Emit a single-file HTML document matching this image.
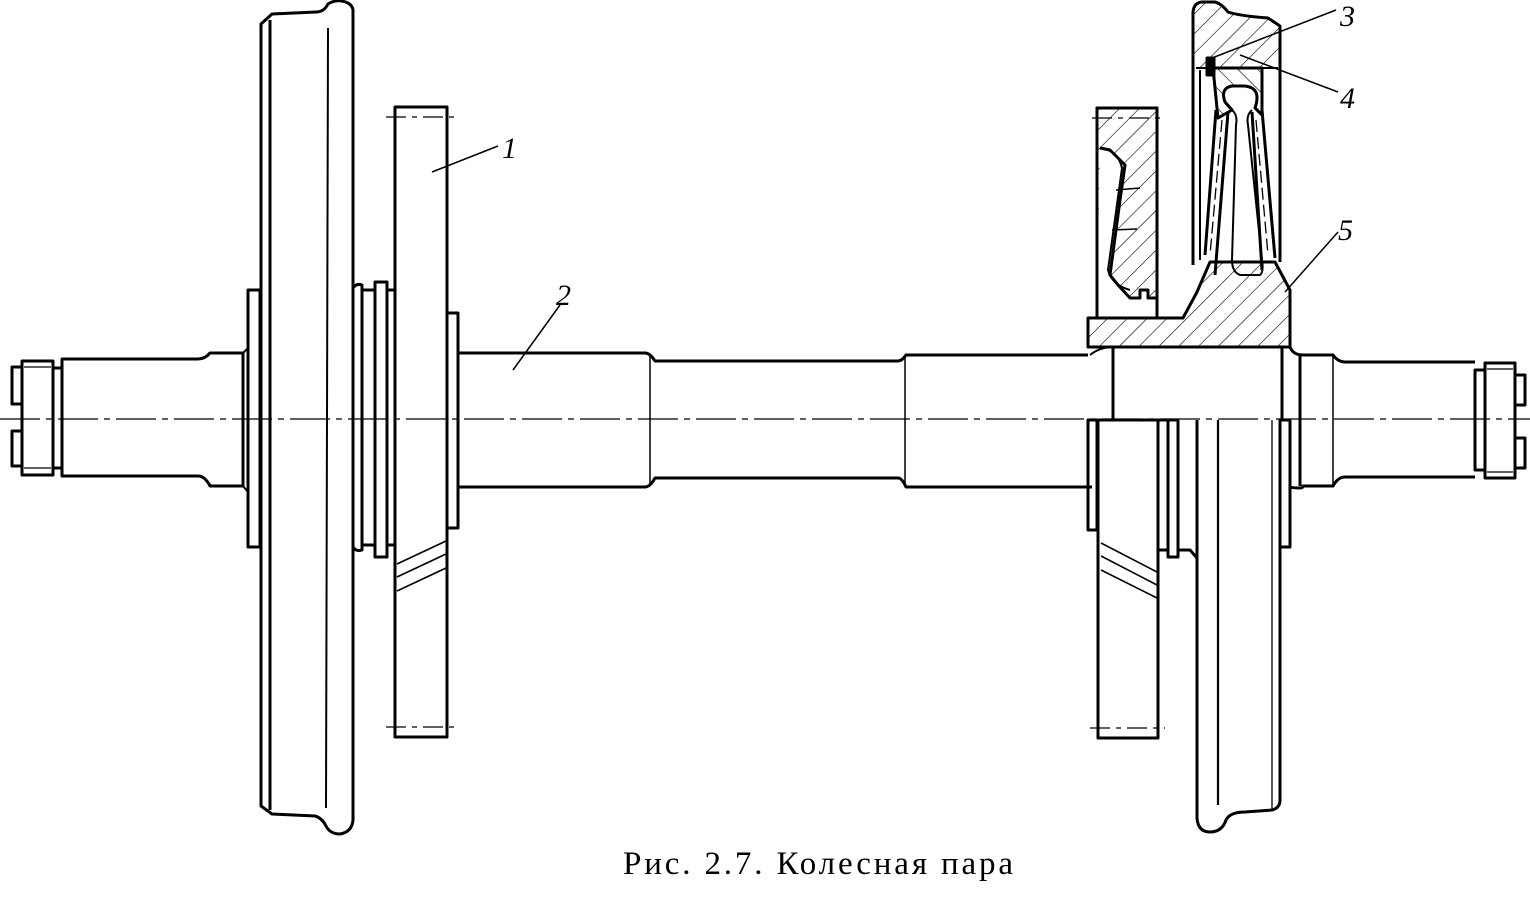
<!DOCTYPE html>
<html><head><meta charset="utf-8"><style>
html,body{margin:0;padding:0;background:#fff;}
svg{display:block}
</style></head><body>
<svg width="1530" height="918" viewBox="0 0 1530 918" xmlns="http://www.w3.org/2000/svg">
<defs>
<pattern id="h" patternUnits="userSpaceOnUse" width="14" height="14" patternTransform="rotate(45)">
<line x1="0" y1="0" x2="0" y2="14" stroke="#000" stroke-width="1.2"/>
</pattern>
<pattern id="h2" patternUnits="userSpaceOnUse" width="14" height="14" patternTransform="rotate(-45)">
<line x1="0" y1="0" x2="0" y2="14" stroke="#000" stroke-width="1.2"/>
</pattern>
</defs>
<rect width="1530" height="918" fill="#fff"/>
<g fill="none" stroke="#000" stroke-width="3" stroke-linejoin="round">
<line x1="0" y1="419" x2="1530" y2="419" stroke-width="1.3" stroke-dasharray="40,6,6,6"/>

<path d="M22 367 H12 V404 H22"/>
<path d="M22 431 H12 V466 H22"/>
<rect x="22" y="361" width="31" height="114"/>
<line x1="24" y1="367" x2="51" y2="367" stroke-width="1.2"/>
<line x1="24" y1="468" x2="51" y2="468" stroke-width="1.2"/>
<rect x="53" y="368" width="9" height="100"/>
<path d="M62 359 H198 Q205 359 210 353 H243 V486 H210 Q205 476 198 476 H62 Z"/>
<path d="M243 353 L248 348 M243 486 L248 492" stroke-width="2"/>
<rect x="248" y="290" width="12" height="257"/>
<path d="M261 800 V24 L272 14 L316 12 Q324 12 328 4 Q334 0 342 1 Q352 3 353 10 V820 Q352 832 340 834 Q330 834 326 826 Q322 818 315 816 L272 814 L261 806 Z"/>
<line x1="270" y1="20" x2="270" y2="810"/>
<line x1="328" y1="28" x2="326" y2="808" stroke-width="2"/>
<path d="M353 288 Q356 283 362 285 V550 Q356 552 353 547"/>
<rect x="362" y="290" width="13" height="255"/>
<rect x="375" y="282" width="12" height="275"/>
<rect x="387" y="290" width="8" height="255"/>
<rect x="395" y="107" width="52" height="630"/>
<line x1="386" y1="117" x2="456" y2="117" stroke-width="1.3" stroke-dasharray="20,6,5,6"/>
<line x1="386" y1="727" x2="456" y2="727" stroke-width="1.3" stroke-dasharray="20,6,5,6"/>
<g stroke-width="1.6">
<line x1="397" y1="564" x2="446" y2="541"/>
<line x1="397" y1="577" x2="446" y2="554"/>
<line x1="397" y1="591" x2="446" y2="568"/>
</g>
<rect x="447" y="313" width="11" height="215"/>
<path d="M458 353 H645 Q650 353 655 361 H898 Q902 361 906 355 H1088"/>
<path d="M458 487 H645 Q650 487 655 478 H898 Q902 478 906 487 H1092"/>
<line x1="650" y1="355" x2="650" y2="486" stroke-width="1.5"/>
<line x1="905" y1="358" x2="905" y2="486" stroke-width="1.5"/>

<path d="M1088 318 H1183 L1197 292 L1210 262 H1275 L1290 290 V347 H1088 Z" fill="url(#h)"/>
<path d="M1097 318 V108 H1157 V298 H1148 V290 H1140 V298 H1130 L1118 285 L1110 275 L1120 200 L1125 165 L1110 150 L1100 148" fill="url(#h)"/>
<rect x="1097" y="108" width="60" height="210"/>
<line x1="1092" y1="118" x2="1165" y2="118" stroke-width="1.3" stroke-dasharray="20,6,5,6"/>
<path d="M1100 148 Q1118 150 1122 168 L1108 270 Q1112 285 1130 290" stroke-width="2"/>
<g stroke-width="1.5"><line x1="1116" y1="190" x2="1140" y2="188"/><line x1="1112" y1="230" x2="1137" y2="229"/></g>
<path d="M1193 265 V12 Q1194 2 1203 2 H1215 Q1222 4 1228 12 Q1240 16 1268 18 L1280 26 V262" fill="none"/>
<path d="M1193 68 V12 Q1194 2 1203 2 H1215 Q1222 4 1228 12 Q1240 16 1268 18 L1280 26 V68 Z" fill="url(#h)" stroke="none"/>
<line x1="1196" y1="68" x2="1278" y2="68" stroke-width="2"/>
<path d="M1213 68 H1262 V115 L1255 108 Q1262 88 1245 86 H1232 Q1220 88 1225 102 L1232 110 L1218 118 Z" fill="url(#h2)"/>
<rect x="1207" y="58" width="7" height="17" fill="#000"/>
<line x1="1200" y1="70" x2="1200" y2="260" stroke-width="2"/>
<path d="M1216 110 L1205 255 M1228 112 L1215 275"/>
<path d="M1252 112 L1262 270 M1262 110 L1275 258"/>
<path d="M1232 110 Q1238 115 1236 125 L1232 260 Q1232 272 1240 275 H1260 Q1264 272 1262 260 L1248 125 Q1246 115 1252 110" stroke-width="2"/>
<g stroke-width="1.3" stroke-dasharray="12,5"><line x1="1222" y1="120" x2="1210" y2="255"/><line x1="1256" y1="120" x2="1268" y2="255"/></g>
<line x1="1262" y1="70" x2="1262" y2="108" stroke-width="2"/>
<line x1="1113" y1="347" x2="1113" y2="420"/>
<path d="M1090 355 Q1100 347 1113 347" stroke-width="2"/>
<line x1="1282" y1="347" x2="1282" y2="420"/>
<rect x="1088" y="420" width="9" height="110"/>
<rect x="1098" y="420" width="60" height="318"/>
<line x1="1090" y1="728" x2="1165" y2="728" stroke-width="1.3" stroke-dasharray="20,6,5,6"/>
<g stroke-width="1.6">
<line x1="1101" y1="543" x2="1157" y2="572"/>
<line x1="1101" y1="556" x2="1157" y2="585"/>
<line x1="1101" y1="570" x2="1157" y2="598"/>
</g>
<rect x="1158" y="420" width="10" height="130"/>
<rect x="1168" y="420" width="10" height="137"/>
<path d="M1178 420 V550 H1190 L1197 558"/>
<path d="M1197 420 V818 Q1198 832 1210 832 Q1222 832 1226 820 Q1230 812 1245 812 L1272 810 Q1280 808 1280 800 V420"/>
<line x1="1218" y1="420" x2="1218" y2="805" stroke-width="2.2"/>
<line x1="1272" y1="420" x2="1272" y2="810" stroke-width="1.3"/>
<rect x="1280" y="420" width="10" height="127"/>
<path d="M1290 347 Q1293 355 1303 355 H1333 Q1338 362 1345 362 H1475"/>
<path d="M1290 487 Q1293 488 1300 488 Q1303 488 1303 486 H1333 Q1338 477 1345 477 H1475"/>
<line x1="1300" y1="355" x2="1300" y2="486"/>
<line x1="1333" y1="356" x2="1333" y2="486" stroke-width="1.5"/>
<rect x="1475" y="370" width="10" height="100"/>
<rect x="1485" y="363" width="30" height="115"/>
<line x1="1487" y1="369" x2="1513" y2="369" stroke-width="1.2"/>
<line x1="1487" y1="472" x2="1513" y2="472" stroke-width="1.2"/>
<path d="M1515 375 H1525 V405 H1515"/>
<path d="M1515 438 H1525 V468 H1515"/>

<g stroke-width="1.5">
<line x1="432" y1="172" x2="498" y2="146"/>
<line x1="513" y1="370" x2="560" y2="305"/>
<line x1="1212" y1="58" x2="1336" y2="10"/>
<line x1="1240" y1="55" x2="1338" y2="92"/>
<line x1="1285" y1="292" x2="1338" y2="232"/>
</g>
</g>
<g font-family="Liberation Serif, serif" font-style="italic" font-size="30" fill="#000">
<text x="502" y="158">1</text>
<text x="556" y="305">2</text>
<text x="1340" y="26">3</text>
<text x="1340" y="108">4</text>
<text x="1338" y="240">5</text>
</g>
<text x="623" y="874" font-family="Liberation Serif, serif" font-size="33" fill="#000" textLength="390" lengthAdjust="spacing">Рис. 2.7. Колесная пара</text>
</svg>
</body></html>
